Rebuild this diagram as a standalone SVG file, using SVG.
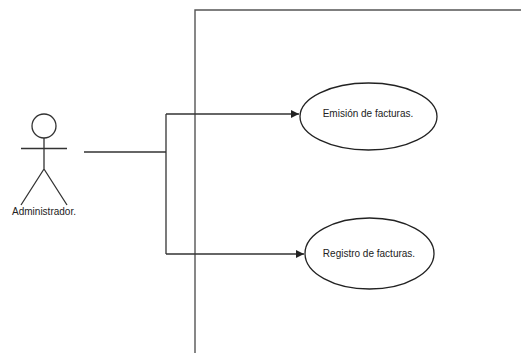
<svg xmlns="http://www.w3.org/2000/svg" width="521" height="353" viewBox="0 0 521 353">
<style>
.ln{fill:none;stroke:#333;stroke-width:1.3}
.bd{fill:none;stroke:#555;stroke-width:1.4}
.uc{fill:#fff;stroke:#222;stroke-width:1.3}
text{font-family:"Liberation Sans",Arial,sans-serif;font-size:10px;fill:#222}
</style>
<defs>
<marker id="ah" viewBox="0 0 10 10" refX="10" refY="5" markerWidth="10" markerHeight="8" markerUnits="userSpaceOnUse" orient="auto">
<path d="M0,0 L10,5 L0,10 z" fill="#222"/>
</marker>
</defs>
<rect width="521" height="353" fill="#fff"/>
<g id="boundary">
<path class="bd" d="M195,353 V10 H521"/>
</g>
<g id="connectors">
<path class="ln" d="M84,152 H166"/>
<path class="ln" d="M166,114 V254"/>
<path class="ln" d="M166,114 H299" marker-end="url(#ah)"/>
<path class="ln" d="M166,254 H304" marker-end="url(#ah)"/>
</g>
<g id="actor">
<circle class="ln" cx="44" cy="126" r="12"/>
<path class="ln" d="M44,138 V169 M21,148.5 H67 M44,169 L21,205 M44,169 L67,205"/>
<text x="44" y="215" text-anchor="middle">Administrador.</text>
</g>
<g id="uc1">
<ellipse class="uc" cx="368.5" cy="116.5" rx="68.5" ry="33.5"/>
<text x="368" y="117" text-anchor="middle">Emisión de facturas.</text>
</g>
<g id="uc2">
<ellipse class="uc" cx="369.5" cy="253.5" rx="64.5" ry="35.5"/>
<text x="369" y="257" text-anchor="middle">Registro de facturas.</text>
</g>
</svg>
